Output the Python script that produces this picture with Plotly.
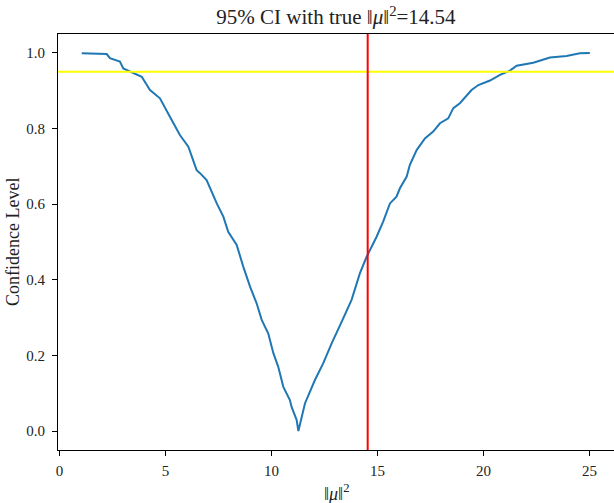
import plotly.graph_objects as go

# Data
norm_sq = [1.05, 2.23, 2.38, 2.85, 3.01, 3.40, 3.88, 4.27, 4.74, 5.21, 5.68, 6.08,
           6.31, 6.47, 6.63, 6.94, 7.42, 7.73, 7.96, 8.36, 8.67, 8.99, 9.30, 9.54,
           9.85, 10.09, 10.32, 10.56, 10.87, 10.95, 11.19, 11.27,
           11.58, 12.05, 12.44, 12.84, 13.31, 13.78, 14.17, 14.49, 14.96, 15.27,
           15.59, 15.90, 16.06, 16.38, 16.53, 16.85, 17.24, 17.63, 17.95, 18.34,
           18.58, 18.89, 19.44, 19.76, 20.31, 20.78, 21.25, 21.57, 22.35, 23.14,
           23.92, 24.55, 25.02]
conf_level = [0.999, 0.997, 0.986, 0.977, 0.959, 0.950, 0.937, 0.902, 0.880, 0.831,
              0.783, 0.752, 0.717, 0.690, 0.682, 0.664, 0.602, 0.567, 0.527, 0.492,
              0.435, 0.382, 0.338, 0.294, 0.258, 0.206, 0.170, 0.117, 0.082, 0.064,
              0.029, 0.0,
              0.073, 0.135, 0.179, 0.232, 0.289, 0.347, 0.417, 0.461, 0.514, 0.554,
              0.602, 0.620, 0.642, 0.673, 0.704, 0.743, 0.774, 0.792, 0.814, 0.827,
              0.854, 0.867, 0.902, 0.915, 0.927, 0.942, 0.953, 0.966, 0.974, 0.988,
              0.992, 0.999, 1.0]
true_value = 14.54
ci_level = 0.95
x_ticks = [0, 5, 10, 15, 20, 25]
y_ticks = [0.0, 0.2, 0.4, 0.6, 0.8, 1.0]
y_tick_labels = ["0.0", "0.2", "0.4", "0.6", "0.8", "1.0"]

FONT = "Liberation Serif, DejaVu Serif, serif"

fig = go.Figure()
fig.add_trace(go.Scatter(x=norm_sq, y=conf_level, mode="lines",
                         line=dict(color="#1f77b4", width=2), showlegend=False))

fig.add_hline(y=ci_level, line=dict(color="#ffff00", width=2))
fig.add_vline(x=true_value, line=dict(color="#ff0000", width=2))

axis_common = dict(
    showgrid=False, zeroline=False, showline=True, linecolor="#000000",
    linewidth=1, ticks="outside", ticklen=5, tickwidth=1, tickcolor="#000000",
    tickfont=dict(family=FONT, size=15, color="#222222"),
)

fig.update_layout(
    width=614, height=503,
    margin=dict(l=58, r=0, t=34, b=53),
    plot_bgcolor="white", paper_bgcolor="white",
    font=dict(family=FONT, color="#222222"),
    title=dict(text="95% CI with true ‖<i>μ</i>‖<sup>2</sup>=14.54",
               x=0.5, xref="paper", xanchor="center",
               y=(503 - 17) / 503, yref="container", yanchor="middle",
               font=dict(family=FONT, size=21, color="#222222")),
    xaxis=dict(range=[-0.07, 26.16], tickvals=x_ticks, mirror=True,
               ticklabelstandoff=2, **axis_common),
    yaxis=dict(range=[-0.05, 1.05], tickvals=y_ticks, ticktext=y_tick_labels,
               mirror=False, ticklabelstandoff=4, **axis_common),
    annotations=[
        dict(text="‖<i>μ</i>‖<sup>2</sup>", xref="paper", yref="paper",
             x=0.5, y=-42 / 416, xanchor="center", yanchor="middle",
             showarrow=False, font=dict(family=FONT, size=18, color="#222222")),
        dict(text="Confidence Level", xref="paper", yref="paper",
             x=(13 - 58) / 556, y=0.5, xanchor="center", yanchor="middle",
             textangle=-90, showarrow=False,
             font=dict(family=FONT, size=18, color="#222222")),
    ],
)

fig.write_html("out.html", config={"displayModeBar": False},
               post_script="document.body.style.margin='0';document.body.style.overflow='hidden';")
